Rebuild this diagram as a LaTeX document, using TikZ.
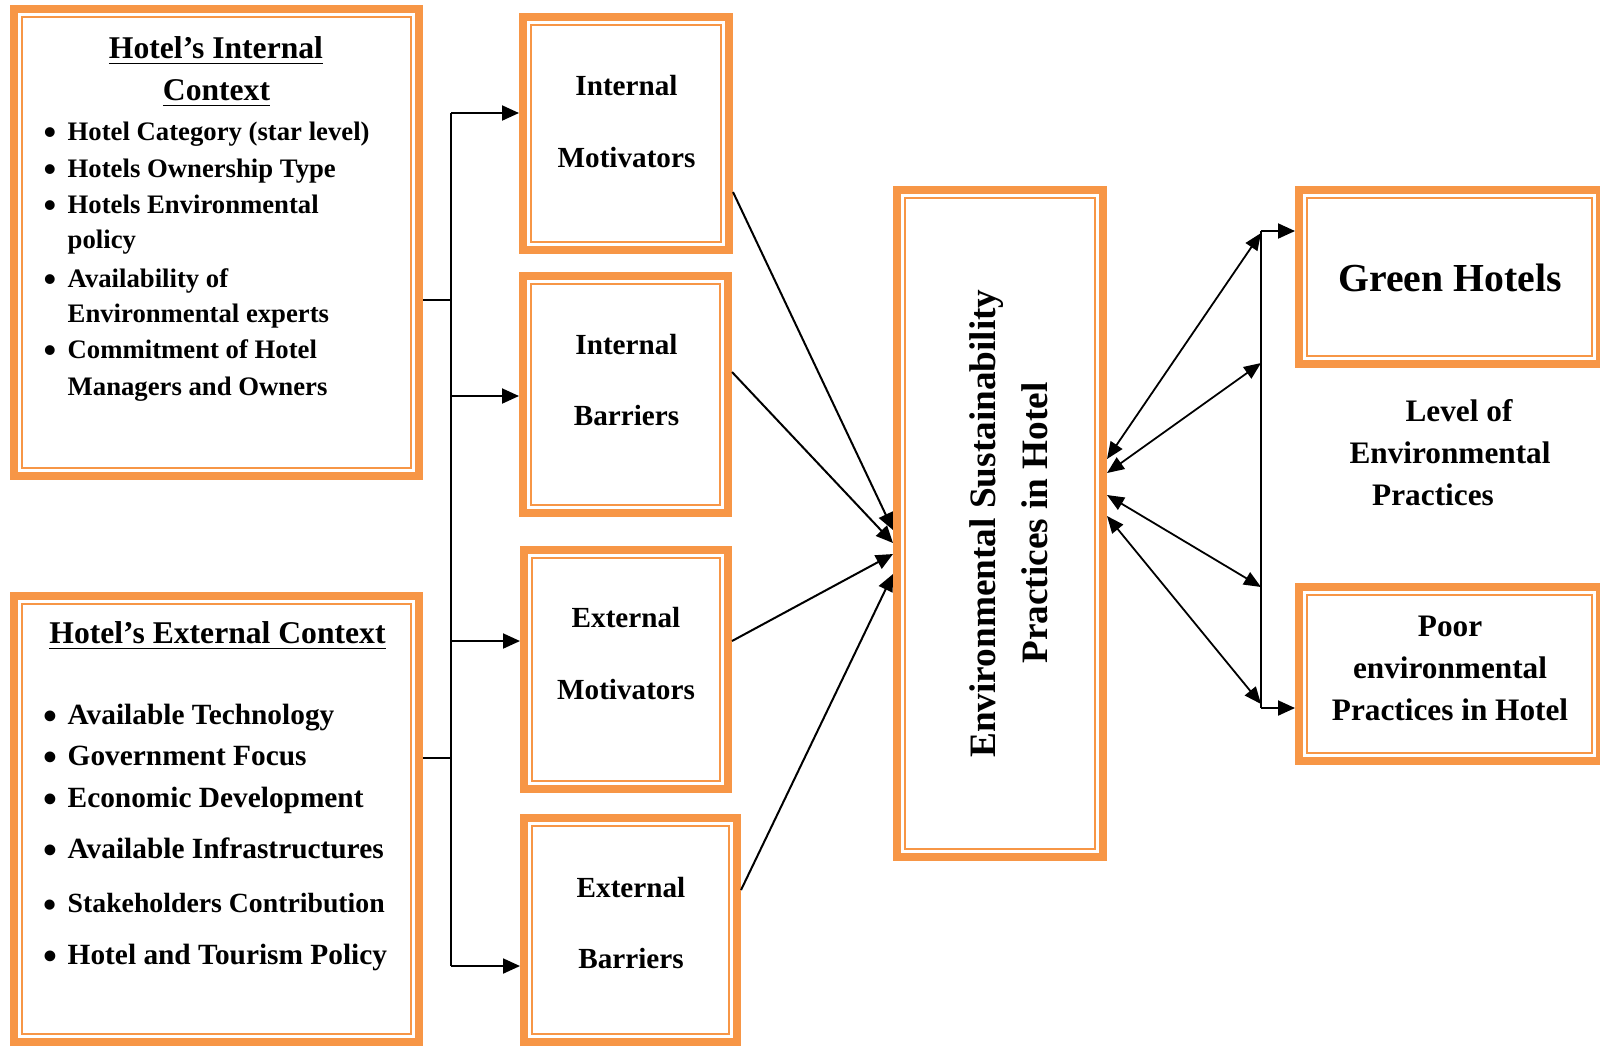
\documentclass[tikz,border=0pt]{standalone}
\usepackage{fontspec}
\setmainfont{Liberation Serif}
\usepackage{tikz}
\usetikzlibrary{arrows.meta}
\definecolor{hotorange}{HTML}{F79646}
\newcommand{\dotitem}{\makebox[2.4mm][l]{\raisebox{-0.4ex}{\scalebox{1.35}{•}}}}

\begin{document}
\begin{tikzpicture}[
  frame/.style={draw=hotorange, line width=0.8mm, inner sep=0,
    path picture={\draw[hotorange, line width=0.25mm]
      ([shift={(0.78mm,-0.78mm)}]path picture bounding box.north west) rectangle
      ([shift={(-0.78mm,0.78mm)}]path picture bounding box.south east);}},
  ttl/.style={inner sep=0, anchor=base, font=\fontsize{9}{11}\selectfont\bfseries},
  itm/.style={inner sep=0, anchor=base west, font=\fontsize{7.6}{9}\selectfont\bfseries},
  itmx/.style={itm, font=\fontsize{8.35}{10}\selectfont\bfseries},
  lbl/.style={inner sep=0, anchor=base, font=\fontsize{8.3}{10}\selectfont\bfseries},
  big/.style={lbl, font=\fontsize{11.3}{13}\selectfont\bfseries},
  lvl/.style={lbl, font=\fontsize{8.9}{11}\selectfont\bfseries},
  vert/.style={lbl, rotate=90, font=\fontsize{10.6}{13}\selectfont\bfseries},
  ln/.style={line width=0.2mm},
  arr/.style={ln, -{Triangle[length=1.7mm, width=1.5mm]}},
  dbl/.style={line width=0.18mm, {Triangle[length=1.7mm, width=1.4mm]}-{Triangle[length=1.7mm, width=1.4mm]}},
]
\useasboundingbox (0,0) rectangle (16,-10.47);
% kontekst wewnetrzny i zewnetrzny
\node[frame, minimum width=4.05cm, minimum height=4.67cm] (ctxin) at (2.165,-2.425) {};
\node[frame, minimum width=4.05cm, minimum height=4.46cm] (ctxex) at (2.165,-8.19) {};
\node[ttl] (inttl1) at (2.16,-0.58) {\underline{Hotel’s Internal}};
\node[ttl] (inttl2) at (2.165,-1.00) {\underline{Context}};
\node[itm] (in1) at (0.43,-1.40) {\dotitem Hotel Category (star level)};
\node[itm] (in2) at (0.43,-1.77) {\dotitem Hotels Ownership Type};
\node[itm] (in3) at (0.43,-2.13) {\dotitem Hotels Environmental};
\node[itm] (in3b) at (0.67,-2.48) {policy};
\node[itm] (in4) at (0.43,-2.87) {\dotitem Availability of};
\node[itm] (in4b) at (0.67,-3.22) {Environmental experts};
\node[itm] (in5) at (0.43,-3.58) {\dotitem Commitment of Hotel};
\node[itm] (in5b) at (0.67,-3.95) {Managers and Owners};
\node[ttl] (exttl) at (2.175,-6.43) {\underline{Hotel’s External Context}};
\node[itmx] (ex1) at (0.43,-7.24) {\dotitem Available Technology};
\node[itmx] (ex2) at (0.43,-7.65) {\dotitem Government Focus};
\node[itmx] (ex3) at (0.43,-8.07) {\dotitem Economic Development};
\node[itmx] (ex4) at (0.43,-8.58) {\dotitem Available Infrastructures};
\node[itm, font=\fontsize{7.9}{9.5}\selectfont\bfseries] (ex5) at (0.43,-9.12) {\dotitem Stakeholders Contribution};
\node[itmx] (ex6) at (0.43,-9.64) {\dotitem Hotel and Tourism Policy};
% motywatory i bariery
\node[frame, minimum width=2.06cm, minimum height=2.33cm] (im) at (6.26,-1.335) {};
\node[frame, minimum width=2.05cm, minimum height=2.37cm] (ib) at (6.255,-3.945) {};
\node[frame, minimum width=2.04cm, minimum height=2.39cm] (em) at (6.26,-6.695) {};
\node[frame, minimum width=2.13cm, minimum height=2.24cm] (eb) at (6.305,-9.30) {};
\node[lbl] (im1) at (6.265,-0.95) {Internal};
\node[lbl] (im2) at (6.265,-1.67) {Motivators};
\node[lbl] (ib1) at (6.265,-3.54) {Internal};
\node[lbl] (ib2) at (6.265,-4.25) {Barriers};
\node[lbl] (em1) at (6.26,-6.27) {External};
\node[lbl] (em2) at (6.26,-6.99) {Motivators};
\node[lbl] (eb1) at (6.31,-8.97) {External};
\node[lbl] (eb2) at (6.31,-9.68) {Barriers};
% praktyki w hotelu
\node[frame, minimum width=2.06cm, minimum height=6.67cm] (esp) at (10.00,-5.235) {};
\node[vert] (esp1) at (9.95,-5.235) {Environmental Sustainability};
\node[vert] (esp2) at (10.47,-5.23) {Practices in Hotel};
% poziom praktyk
\node[frame, minimum width=3.01cm, minimum height=1.74cm] (green) at (14.495,-2.77) {};
\node[frame, minimum width=3.01cm, minimum height=1.74cm] (poor) at (14.495,-6.74) {};
\node[big] (green1) at (14.50,-2.91) {Green Hotels};
\node[lvl] (lev1) at (14.59,-4.21) {Level of};
\node[lvl] (lev2) at (14.50,-4.63) {Environmental};
\node[lvl] (lev3) at (14.33,-5.05) {Practices};
\node[lvl] (poor1) at (14.50,-6.36) {Poor};
\node[lvl] (poor2) at (14.50,-6.78) {environmental};
\node[lvl] (poor3) at (14.50,-7.20) {Practices in Hotel};
% szyna lewa
\coordinate (ltop) at (4.51,-1.13);
\coordinate (lbot) at (4.51,-9.66);
\draw[ln] (ltop) -- (lbot);
\draw[ln] (ctxin.east |- 0,-3.00) -- (ltop |- 0,-3.00);
\draw[ln] (ctxex.east |- 0,-7.58) -- (ltop |- 0,-7.58);
\draw[arr] (ltop) -- (im.west |- ltop);
\draw[arr] (ltop |- 0,-3.96) -- (ib.west |- 0,-3.96);
\draw[arr] (ltop |- 0,-6.41) -- (em.west |- 0,-6.41);
\draw[arr] (lbot) -- (eb.west |- lbot);
% do praktyk
\draw[arr] (im.east |- 0,-1.92) -- (esp.west |- 0,-5.30);
\draw[arr] (ib.east |- 0,-3.72) -- (esp.west |- 0,-5.43);
\draw[arr] (em.east |- 0,-6.41) -- (esp.west |- 0,-5.54);
\draw[arr] (eb.east |- 0,-8.90) -- (esp.west |- 0,-5.74);
% szyna prawa
\coordinate (rtop) at (12.61,-2.31);
\coordinate (rbot) at (12.61,-7.08);
\draw[ln] (rtop) -- (rbot);
\draw[arr] (rtop) -- (green.west |- rtop);
\draw[arr] (rbot) -- (poor.west |- rbot);
\draw[dbl] (esp.east |- 0,-4.59) -- (rtop |- 0,-2.33);
\draw[dbl] (esp.east |- 0,-4.73) -- (rtop |- 0,-3.63);
\draw[dbl] (esp.east |- 0,-4.95) -- (rtop |- 0,-5.87);
\draw[dbl] (esp.east |- 0,-5.16) -- (rtop |- 0,-7.04);
\end{tikzpicture}
\end{document}
